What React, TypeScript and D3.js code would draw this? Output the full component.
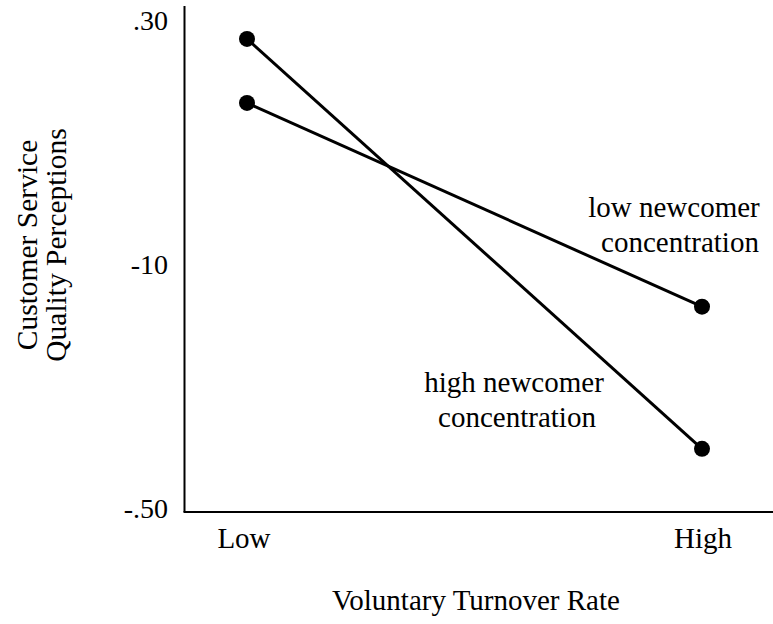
import React from "react";
import * as d3 from "d3";

const categories = ["Low", "High"];
const seriesNames = ["high newcomer concentration", "low newcomer concentration"];
const highNewcomer = [0.269, -0.403];
const lowNewcomer = [0.164, -0.17];
const tickValues = [0.3, -0.1, -0.5];
const tickLabels = [".30", "-10", "-.50"];

const W = 773;
const H = 624;
const FONT = "'Liberation Serif', serif";
const FS = 29;
const txt: React.CSSProperties = { fontFamily: FONT, fontSize: FS };

export default function App() {
  const x = d3.scalePoint<string>().domain(categories).range([247, 702]);
  const y = d3.scaleLinear().domain([-0.5, 0.3]).range([508, 20]);
  const axisX = 184.5;
  const axisY = 512;
  const line = d3
    .line<number>()
    .x((_, i) => x(categories[i]) as number)
    .y((d) => y(d));
  const series = [highNewcomer, lowNewcomer];

  return (
    <svg
      width={W}
      height={H}
      style={{ position: "absolute", left: 0, top: 0, background: "#fff" }}
    >
      <rect x={0} y={0} width={W} height={H} fill="#fff" />
      <line x1={axisX} x2={axisX} y1={6} y2={axisY} stroke="#000" strokeWidth={2} />
      <line x1={axisX - 1} x2={W} y1={axisY} y2={axisY} stroke="#000" strokeWidth={2} />
      {tickValues.map((t, i) => (
        <text
          key={i}
          x={168}
          y={y(t)}
          textAnchor="end"
          dominantBaseline="central"
          style={{ ...txt, fontSize: 28 }}
          fill="#000"
        >
          {tickLabels[i]}
        </text>
      ))}
      {categories.map((c, i) => (
        <text key={c} x={(x(c) as number) + (i === 0 ? -3 : 1)} y={548} textAnchor="middle" style={txt} fill="#000">
          {c}
        </text>
      ))}
      <text x={476} y={610} textAnchor="middle" style={txt} fill="#000">
        Voluntary Turnover Rate
      </text>
      <g transform="translate(37,245) rotate(-90)">
        <text x={0} y={0} textAnchor="middle" style={{ ...txt, fontSize: 29.5 }} fill="#000">
          Customer Service
        </text>
        <text x={0} y={29} textAnchor="middle" style={{ ...txt, fontSize: 29.5 }} fill="#000">
          Quality Perceptions
        </text>
      </g>
      {series.map((s, si) => (
        <g key={seriesNames[si]}>
          <path d={line(s) as string} fill="none" stroke="#000" strokeWidth={3} />
          {s.map((v, i) => (
            <circle key={i} cx={x(categories[i]) as number} cy={y(v)} r={8} fill="#000" />
          ))}
        </g>
      ))}
      <text x={674} y={217} textAnchor="middle" style={txt} fill="#000">
        low newcomer
      </text>
      <text x={680} y={252} textAnchor="middle" style={txt} fill="#000">
        concentration
      </text>
      <text x={514} y={392} textAnchor="middle" style={txt} fill="#000">
        high newcomer
      </text>
      <text x={517} y={427} textAnchor="middle" style={txt} fill="#000">
        concentration
      </text>
    </svg>
  );
}
